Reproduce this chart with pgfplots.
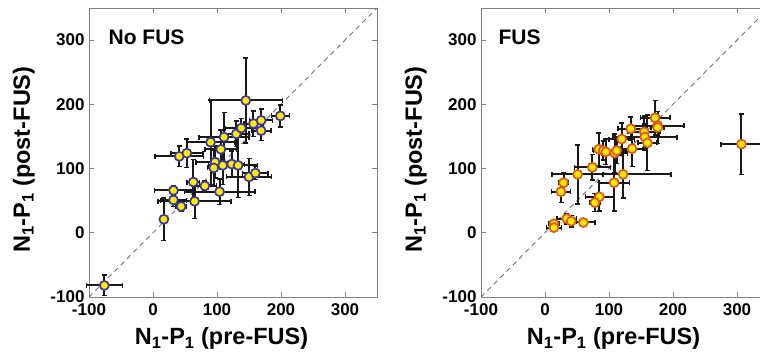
\documentclass[border=0pt]{standalone}
\usepackage{pgfplots}
\pgfplotsset{compat=1.18}
\usepackage{pgfplotstable}
\usepackage{fontspec}
\setmainfont{Liberation Sans}
\definecolor{edgeblue}{RGB}{60,55,160}
\definecolor{edgeorange}{RGB}{225,85,30}
\definecolor{fillyellow}{RGB}{255,235,0}
\definecolor{barcol}{RGB}{25,25,25}

\pgfplotstableread{
x y ex ey
-76 -82 28 16
17 21 4 33
32 66 30 8
32 51 20 10
44 41 8 8
65 49 57 27
63 79 10 35
81 73 18 8
90 141 37 66
145 206 57 66
111 149 39 38
106 130 25 30
97 110 30 25
95 101 10 28
109 105 22 30
123 107 20 20
133 105 30 50
130 154 20 20
138 163 25 15
157 170 15 20
169 175 18 18
169 159 15 15
199 182 14 17
150 87 35 29
160 93 20 10
41 119 38 16
53 124 25 22
104 64 55 20
}\nofus

\pgfplotstableread{
x y ex ey
14 14 8 5
14 8 12 4
34 22 15 8
41 18 8 9
60 16 18 5
25 64 15 17
29 78 8 16
51 91 40 46
74 102 28 20
84 130 10 25
91 128 15 15
95 126 10 20
109 124 20 30
112 128 15 20
120 146 20 25
134 162 20 18
136 131 18 28
122 91 75 37
108 78 24 44
85 56 22 22
78 47 8 14
155 157 25 25
156 149 50 20
160 140 15 43
172 179 23 27
176 167 41 15
176 164 10 25
307 138 32 47
}\fus

\pgfplotsset{
  panel/.style={
    anchor=south west,
    scale only axis,
    width=288pt, height=289pt,
    xmin=-100, xmax=350, ymin=-100, ymax=350,
    xtick={-100,0,100,200,300}, ytick={-100,0,100,200,300},
    tick align=inside, xtick pos=both, ytick pos=both,
    major tick length=5pt,
    axis line style={black!50, line width=0.8pt},
    every tick/.style={black!50, line width=0.8pt},
    /pgf/number format/assume math mode=true,
    tick label style={font=\fontsize{17}{20}\selectfont\bfseries},
    xticklabel style={yshift=-3pt},
    yticklabel style={xshift=-1pt},
    label style={font=\fontsize{23.5}{26}\selectfont\bfseries},
    xlabel={N\textsubscript{1}-P\textsubscript{1} (pre-FUS)},
    ylabel={N\textsubscript{1}-P\textsubscript{1} (post-FUS)},
    xlabel style={at={(axis description cs:0.46,-0.166)}, anchor=base},
    ylabel style={at={(axis description cs:-0.205,0.475)}, anchor=base, rotate=0},
    clip=false,
  },
  ebars/.style={forget plot, only marks, mark=none,
    error bars/.cd, x dir=both, x explicit, y dir=both, y explicit,
    error bar style={barcol, line width=2pt},
    error mark options={barcol, line width=1.5pt, mark size=2.5pt, rotate=90}},
}

\begin{document}
\begin{tikzpicture}[x=1pt,y=1pt]
\useasboundingbox (0,0) rectangle (760,358);
\clip (0,0) rectangle (760,358);
\begin{axis}[panel, at={(89pt,61pt)}]
  \addplot[black!55, line width=0.9pt, dash pattern=on 5pt off 4pt] coordinates {(-100,-100) (350,350)};
  \addplot[ebars] table[x=x, y=y, x error=ex, y error=ey] {\nofus};
  \addplot[only marks, mark=*, mark size=4.5pt, mark options={fill=fillyellow, draw=edgeblue, line width=1.7pt}] table[x=x, y=y] {\nofus};
  \node[anchor=base west, font=\fontsize{21}{24}\selectfont\bfseries] at (axis description cs:0.056,0.872) {No FUS};
\end{axis}
\begin{axis}[panel, at={(481pt,61pt)}]
  \addplot[black!55, line width=0.9pt, dash pattern=on 5pt off 4pt] coordinates {(-100,-100) (350,350)};
  \addplot[ebars] table[x=x, y=y, x error=ex, y error=ey] {\fus};
  \addplot[only marks, mark=*, mark size=4.5pt, mark options={fill=fillyellow, draw=edgeorange, line width=1.7pt}] table[x=x, y=y] {\fus};
  \node[anchor=base west, font=\fontsize{21}{24}\selectfont\bfseries] at (axis description cs:0.049,0.872) {FUS};
\end{axis}
\end{tikzpicture}
\end{document}
